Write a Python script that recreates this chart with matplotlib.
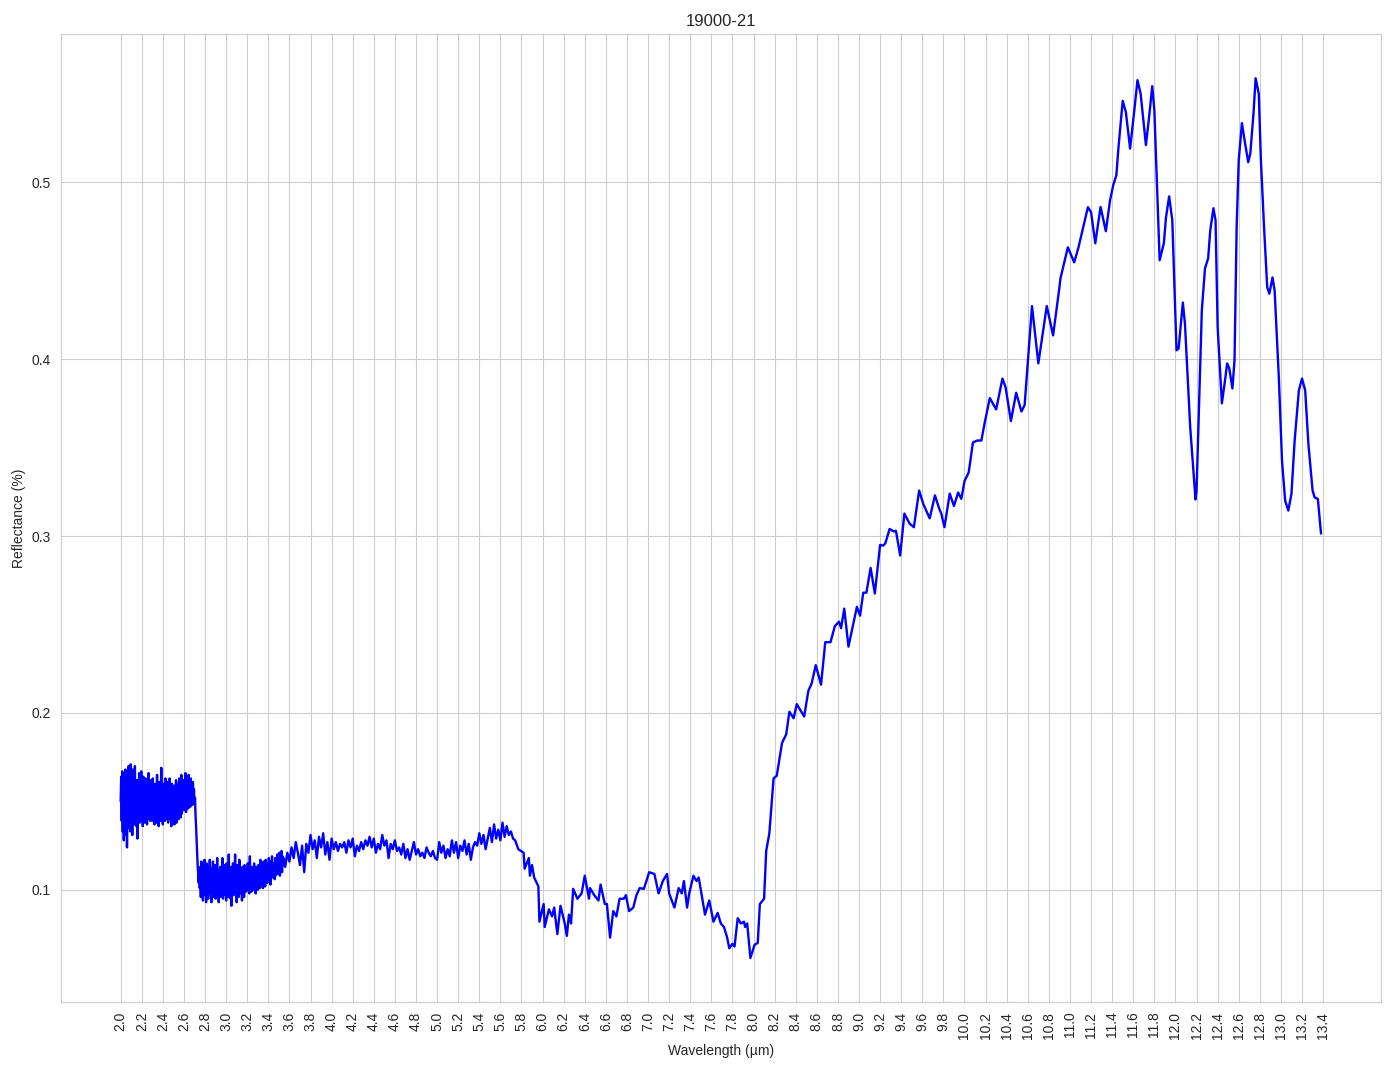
import numpy as np
import matplotlib
matplotlib.use("Agg")
import matplotlib.pyplot as plt
import seaborn as sns

# noisy high-reflectance start (step 0.005)
wl_a = [2.000, 2.005, 2.010, 2.015, 2.020, 2.025, 2.030, 2.035, 2.040, 2.045,
        2.050, 2.055, 2.060, 2.065, 2.070, 2.075, 2.080, 2.085, 2.090, 2.095,
        2.100, 2.105, 2.110, 2.115, 2.120, 2.125, 2.130, 2.135, 2.140, 2.145,
        2.150, 2.155, 2.160, 2.165, 2.170, 2.175, 2.180, 2.185, 2.190, 2.195,
        2.200, 2.205, 2.210, 2.215, 2.220, 2.225, 2.230, 2.235, 2.240, 2.245,
        2.250, 2.255, 2.260, 2.265, 2.270, 2.275, 2.280, 2.285, 2.290, 2.295,
        2.300, 2.305, 2.310, 2.315, 2.320, 2.325, 2.330, 2.335, 2.340, 2.345,
        2.350, 2.355, 2.360, 2.365, 2.370, 2.375, 2.380, 2.385, 2.390, 2.395,
        2.400, 2.405, 2.410, 2.415, 2.420, 2.425, 2.430, 2.435, 2.440, 2.445,
        2.450, 2.455, 2.460, 2.465, 2.470, 2.475, 2.480, 2.485, 2.490, 2.495,
        2.500, 2.505, 2.510, 2.515, 2.520, 2.525, 2.530, 2.535, 2.540, 2.545,
        2.550, 2.555, 2.560, 2.565, 2.570, 2.575, 2.580, 2.585, 2.590, 2.595,
        2.600, 2.605, 2.610, 2.615, 2.620, 2.625, 2.630, 2.635, 2.640, 2.645,
        2.650, 2.655, 2.660, 2.665, 2.670, 2.675, 2.680, 2.685, 2.690, 2.695,
        2.700, 2.705, 2.710, 2.715, 2.720, 2.725, 2.730, 2.735, 2.740, 2.745]
refl_a = [0.150, 0.164, 0.139, 0.167, 0.133, 0.166, 0.128, 0.159, 0.137, 0.168,
          0.131, 0.162, 0.124, 0.157, 0.135, 0.170, 0.141, 0.165, 0.133, 0.171,
          0.138, 0.163, 0.131, 0.168, 0.142, 0.160, 0.137, 0.170, 0.144, 0.158,
          0.136, 0.162, 0.129, 0.155, 0.140, 0.166, 0.138, 0.159, 0.145, 0.167,
          0.139, 0.156, 0.136, 0.164, 0.141, 0.160, 0.138, 0.163, 0.142, 0.155,
          0.137, 0.161, 0.140, 0.166, 0.143, 0.158, 0.139, 0.162, 0.145, 0.156,
          0.139, 0.163, 0.141, 0.157, 0.137, 0.160, 0.144, 0.154, 0.138, 0.165,
          0.142, 0.158, 0.136, 0.161, 0.145, 0.159, 0.139, 0.169, 0.141, 0.156,
          0.137, 0.160, 0.143, 0.155, 0.139, 0.163, 0.140, 0.152, 0.144, 0.161,
          0.138, 0.158, 0.145, 0.163, 0.140, 0.154, 0.136, 0.160, 0.142, 0.157,
          0.141, 0.159, 0.137, 0.156, 0.143, 0.162, 0.138, 0.155, 0.146, 0.160,
          0.140, 0.163, 0.144, 0.157, 0.141, 0.165, 0.143, 0.159, 0.147, 0.162,
          0.145, 0.157, 0.148, 0.166, 0.144, 0.161, 0.149, 0.158, 0.146, 0.165,
          0.149, 0.160, 0.147, 0.163, 0.151, 0.158, 0.148, 0.161, 0.152, 0.157,
          0.149, 0.152, 0.142, 0.136, 0.128, 0.121, 0.114, 0.109, 0.104, 0.110]

# noisy low plateau (step 0.005)
wl_b = [2.750, 2.755, 2.760, 2.765, 2.770, 2.775, 2.780, 2.785, 2.790, 2.795,
        2.800, 2.805, 2.810, 2.815, 2.820, 2.825, 2.830, 2.835, 2.840, 2.845,
        2.850, 2.855, 2.860, 2.865, 2.870, 2.875, 2.880, 2.885, 2.890, 2.895,
        2.900, 2.905, 2.910, 2.915, 2.920, 2.925, 2.930, 2.935, 2.940, 2.945,
        2.950, 2.955, 2.960, 2.965, 2.970, 2.975, 2.980, 2.985, 2.990, 2.995,
        3.000, 3.005, 3.010, 3.015, 3.020, 3.025, 3.030, 3.035, 3.040, 3.045,
        3.050, 3.055, 3.060, 3.065, 3.070, 3.075, 3.080, 3.085, 3.090, 3.095,
        3.100, 3.105, 3.110, 3.115, 3.120, 3.125, 3.130, 3.135, 3.140, 3.145,
        3.150, 3.155, 3.160, 3.165, 3.170, 3.175, 3.180, 3.185, 3.190, 3.195,
        3.200, 3.205, 3.210, 3.215, 3.220, 3.225, 3.230, 3.235, 3.240, 3.245,
        3.250, 3.255, 3.260, 3.265, 3.270, 3.275, 3.280, 3.285, 3.290, 3.295,
        3.300, 3.305, 3.310, 3.315, 3.320, 3.325, 3.330, 3.335, 3.340, 3.345,
        3.350, 3.355, 3.360, 3.365, 3.370, 3.375, 3.380, 3.385, 3.390, 3.395,
        3.400, 3.405, 3.410, 3.415, 3.420, 3.425, 3.430, 3.435, 3.440, 3.445,
        3.450, 3.455, 3.460, 3.465, 3.470, 3.475, 3.480, 3.485, 3.490, 3.495,
        3.500, 3.505, 3.510, 3.515, 3.520, 3.525, 3.530, 3.535, 3.540, 3.545]
refl_b = [0.101, 0.113, 0.096, 0.116, 0.103, 0.110, 0.094, 0.114, 0.099, 0.117,
          0.097, 0.111, 0.093, 0.115, 0.102, 0.108, 0.095, 0.113, 0.100, 0.117,
          0.098, 0.110, 0.093, 0.112, 0.101, 0.116, 0.096, 0.108, 0.099, 0.114,
          0.095, 0.112, 0.099, 0.118, 0.097, 0.109, 0.093, 0.111, 0.100, 0.113,
          0.096, 0.111, 0.098, 0.118, 0.095, 0.109, 0.102, 0.114, 0.097, 0.107,
          0.094, 0.115, 0.100, 0.112, 0.096, 0.120, 0.099, 0.110, 0.095, 0.113,
          0.091, 0.112, 0.100, 0.115, 0.097, 0.110, 0.103, 0.120, 0.099, 0.108,
          0.093, 0.114, 0.101, 0.111, 0.096, 0.117, 0.102, 0.109, 0.098, 0.112,
          0.094, 0.113, 0.101, 0.109, 0.096, 0.114, 0.102, 0.108, 0.099, 0.112,
          0.100, 0.115, 0.103, 0.110, 0.098, 0.119, 0.102, 0.111, 0.099, 0.113,
          0.104, 0.110, 0.100, 0.115, 0.103, 0.111, 0.098, 0.113, 0.105, 0.109,
          0.100, 0.114, 0.104, 0.112, 0.101, 0.117, 0.105, 0.110, 0.102, 0.115,
          0.101, 0.116, 0.106, 0.112, 0.102, 0.117, 0.107, 0.113, 0.104, 0.115,
          0.106, 0.118, 0.108, 0.114, 0.103, 0.116, 0.109, 0.119, 0.107, 0.115,
          0.109, 0.112, 0.106, 0.118, 0.108, 0.114, 0.110, 0.120, 0.109, 0.116,
          0.111, 0.121, 0.108, 0.117, 0.113, 0.122, 0.110, 0.119, 0.114, 0.118]

# middle plateau (step 0.02)
wl_c = [3.56, 3.58, 3.60, 3.62, 3.64, 3.66, 3.68, 3.70, 3.72, 3.74,
        3.76, 3.78, 3.80, 3.82, 3.84, 3.86, 3.88, 3.90, 3.92, 3.94,
        3.96, 3.98, 4.00, 4.02, 4.04, 4.06, 4.08, 4.10, 4.12, 4.14,
        4.16, 4.18, 4.20, 4.22, 4.24, 4.26, 4.28, 4.30, 4.32, 4.34,
        4.36, 4.38, 4.40, 4.42, 4.44, 4.46, 4.48, 4.50, 4.52, 4.54,
        4.56, 4.58, 4.60, 4.62, 4.64, 4.66, 4.68, 4.70, 4.72, 4.74,
        4.76, 4.78, 4.80, 4.82, 4.84, 4.86, 4.88, 4.90, 4.92, 4.94,
        4.96, 4.98, 5.00, 5.02, 5.04, 5.06, 5.08, 5.10, 5.12, 5.14,
        5.16, 5.18, 5.20, 5.22, 5.24, 5.26, 5.28, 5.30, 5.32, 5.34,
        5.36, 5.38, 5.40, 5.42, 5.44, 5.46, 5.48, 5.50, 5.52, 5.54,
        5.56, 5.58, 5.60, 5.62, 5.64, 5.66, 5.68, 5.70, 5.72, 5.74]
refl_c = [0.113, 0.121, 0.116, 0.124, 0.118, 0.127, 0.121, 0.114, 0.125, 0.110,
          0.126, 0.121, 0.131, 0.123, 0.128, 0.118, 0.130, 0.124, 0.132, 0.120,
          0.127, 0.117, 0.129, 0.123, 0.127, 0.122, 0.126, 0.124, 0.127, 0.121,
          0.128, 0.124, 0.129, 0.119, 0.125, 0.122, 0.127, 0.123, 0.128, 0.125,
          0.130, 0.124, 0.129, 0.121, 0.126, 0.123, 0.131, 0.125, 0.128, 0.118,
          0.126, 0.123, 0.128, 0.122, 0.124, 0.120, 0.126, 0.118, 0.123, 0.117,
          0.122, 0.127, 0.120, 0.123, 0.119, 0.121, 0.118, 0.124, 0.121, 0.119,
          0.122, 0.118, 0.117, 0.127, 0.121, 0.125, 0.118, 0.123, 0.119, 0.128,
          0.121, 0.127, 0.118, 0.125, 0.122, 0.128, 0.120, 0.126, 0.117, 0.124,
          0.127, 0.125, 0.132, 0.126, 0.131, 0.123, 0.129, 0.135, 0.127, 0.137,
          0.129, 0.134, 0.128, 0.138, 0.130, 0.136, 0.131, 0.133, 0.129, 0.128]

# smooth part, 5.77 um onwards
wl_d = [5.77, 5.82, 5.83, 5.87, 5.88, 5.90, 5.92, 5.96, 5.97, 6.01,
        6.02, 6.06, 6.09, 6.11, 6.14, 6.17, 6.21, 6.23, 6.25, 6.27,
        6.29, 6.33, 6.37, 6.40, 6.44, 6.45, 6.49, 6.53, 6.55, 6.59,
        6.61, 6.64, 6.67, 6.70, 6.73, 6.77, 6.79, 6.82, 6.86, 6.89,
        6.92, 6.96, 6.99, 7.01, 7.06, 7.10, 7.14, 7.18, 7.20, 7.25,
        7.29, 7.32, 7.34, 7.37, 7.39, 7.43, 7.46, 7.48, 7.54, 7.58,
        7.62, 7.66, 7.69, 7.72, 7.75, 7.77, 7.80, 7.82, 7.85, 7.88,
        7.91, 7.92, 7.94, 7.97, 8.01, 8.04, 8.06, 8.10, 8.12, 8.15,
        8.19, 8.22, 8.27, 8.31, 8.34, 8.38, 8.41, 8.48, 8.52, 8.55,
        8.59, 8.64, 8.68, 8.73, 8.77, 8.81, 8.83, 8.86, 8.90, 8.98,
        9.01, 9.04, 9.07, 9.11, 9.15, 9.20, 9.23, 9.25, 9.29, 9.33,
        9.35, 9.39, 9.43, 9.48, 9.52, 9.57, 9.61, 9.67, 9.72, 9.76,
        9.78, 9.81, 9.86, 9.90, 9.94, 9.97, 10.00, 10.04, 10.08, 10.12,
        10.16, 10.19, 10.24, 10.30, 10.36, 10.39, 10.44, 10.49, 10.54, 10.57,
        10.64, 10.70, 10.78, 10.84, 10.90, 10.91, 10.98, 11.04, 11.08, 11.17,
        11.20, 11.24, 11.29, 11.34, 11.38, 11.41, 11.44, 11.46, 11.50, 11.53,
        11.57, 11.61, 11.64, 11.67, 11.72, 11.75, 11.78, 11.80, 11.82, 11.85,
        11.89, 11.91, 11.94, 11.97, 12.01, 12.03, 12.07, 12.09, 12.14, 12.19,
        12.20, 12.25, 12.28, 12.31, 12.33, 12.36, 12.38, 12.40, 12.44, 12.47,
        12.49, 12.51, 12.54, 12.56, 12.58, 12.60, 12.63, 12.66, 12.69, 12.71,
        12.74, 12.76, 12.79, 12.81, 12.84, 12.87, 12.89, 12.92, 12.94, 12.98,
        13.01, 13.04, 13.07, 13.10, 13.13, 13.17, 13.20, 13.23, 13.26, 13.30,
        13.32, 13.35, 13.38]
refl_d = [0.123, 0.121, 0.112, 0.118, 0.108, 0.114, 0.107, 0.102, 0.082, 0.092,
          0.079, 0.089, 0.085, 0.090, 0.075, 0.091, 0.081, 0.074, 0.086, 0.081,
          0.1006, 0.095, 0.098, 0.108, 0.095, 0.101, 0.097, 0.094, 0.103, 0.092,
          0.092, 0.073, 0.088, 0.085, 0.095, 0.095, 0.097, 0.088, 0.090, 0.097,
          0.101, 0.1006, 0.106, 0.110, 0.109, 0.098, 0.105, 0.109, 0.098, 0.090,
          0.101, 0.098, 0.105, 0.090, 0.098, 0.108, 0.105, 0.107, 0.086, 0.094,
          0.082, 0.087, 0.081, 0.079, 0.073, 0.067, 0.0695, 0.068, 0.084, 0.081,
          0.082, 0.079, 0.081, 0.0615, 0.069, 0.070, 0.092, 0.095, 0.122, 0.132,
          0.163, 0.1645, 0.183, 0.188, 0.2007, 0.197, 0.205, 0.198, 0.2126, 0.2165,
          0.227, 0.216, 0.240, 0.240, 0.249, 0.2516, 0.248, 0.259, 0.2375, 0.260,
          0.255, 0.268, 0.268, 0.282, 0.2675, 0.295, 0.2946, 0.296, 0.304, 0.3026,
          0.303, 0.289, 0.3127, 0.307, 0.305, 0.3257, 0.318, 0.310, 0.323, 0.3155,
          0.3127, 0.305, 0.324, 0.317, 0.3246, 0.321, 0.331, 0.336, 0.3529, 0.354,
          0.354, 0.3636, 0.378, 0.3716, 0.389, 0.384, 0.365, 0.381, 0.3704, 0.374,
          0.430, 0.3976, 0.430, 0.4134, 0.4406, 0.4457, 0.4632, 0.4547, 0.463, 0.4859,
          0.483, 0.4655, 0.486, 0.4723, 0.4898, 0.4983, 0.504, 0.5198, 0.546, 0.5396,
          0.519, 0.5407, 0.5577, 0.550, 0.521, 0.5368, 0.5543, 0.5407, 0.5068, 0.4559,
          0.4655, 0.480, 0.492, 0.4785, 0.405, 0.406, 0.432, 0.420, 0.3614, 0.3207,
          0.3257, 0.4276, 0.4513, 0.457, 0.4728, 0.4853, 0.4785, 0.418, 0.375, 0.388,
          0.3976, 0.3948, 0.3834, 0.3993, 0.4745, 0.5125, 0.5334, 0.522, 0.5113, 0.5164,
          0.539, 0.5588, 0.550, 0.5125, 0.4745, 0.4406, 0.437, 0.4462, 0.4389, 0.3897,
          0.3427, 0.320, 0.3144, 0.324, 0.354, 0.3823, 0.389, 0.3823, 0.3523, 0.3257,
          0.3218, 0.321, 0.3014]

wavelength = wl_a + wl_b + wl_c + wl_d
reflectance = refl_a + refl_b + refl_c + refl_d

tick_pos = [round(2.0 + 0.2 * i, 1) for i in range(58)]
tick_labels = ["%.1f" % t for t in tick_pos]

sns.set_style("whitegrid")
plt.rcParams['font.family'] = ['Liberation Sans', 'DejaVu Sans']

fig, ax = plt.subplots(figsize=(13.94, 10.69), dpi=100)
fig.subplots_adjust(left=0.0435, right=0.9907, top=0.968, bottom=0.0627)

ax.plot(wavelength, reflectance, color='blue', linewidth=1.7)

ax.set_xticks(tick_pos)
ax.set_xticklabels(tick_labels, rotation=90, fontsize=10)
ax.tick_params(axis='y', labelsize=10)
ax.set_yticks([0.1, 0.2, 0.3, 0.4, 0.5])
ax.set_title("19000-21", fontsize=12)
ax.set_xlabel("Wavelength (µm)", fontsize=10)
ax.set_ylabel("Reflectance (%)", fontsize=10)

fig.savefig("out.png", dpi=100)
